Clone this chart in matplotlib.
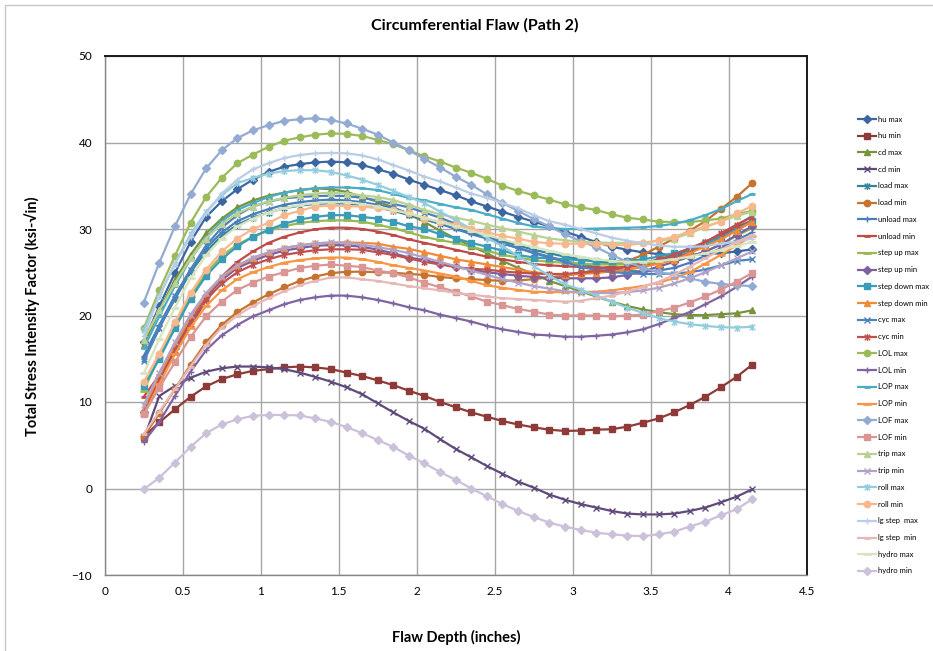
import matplotlib
matplotlib.use("Agg")
import matplotlib.pyplot as plt
from matplotlib.path import Path
from matplotlib.patches import Rectangle

plt.rcParams['font.family'] = ['Lato', 'DejaVu Sans']

# ---------------------------------------------------------------- data
flaw_depth = [0.25, 0.35, 0.45, 0.55, 0.65, 0.75, 0.85, 0.95, 1.05, 1.15,
              1.25, 1.35, 1.45, 1.55, 1.65, 1.75, 1.85, 1.95, 2.05, 2.15,
              2.25, 2.35, 2.45, 2.55, 2.65, 2.75, 2.85, 2.95, 3.05, 3.15,
              3.25, 3.35, 3.45, 3.55, 3.65, 3.75, 3.85, 3.95, 4.05, 4.15]

hu_max = [16.9, 21.1, 24.9, 28.5, 31.4, 33.2, 34.6, 35.7, 36.6, 37.2,
          37.5, 37.7, 37.8, 37.7, 37.4, 36.9, 36.4, 35.7, 35.1, 34.5,
          33.9, 33.2, 32.6, 32.0, 31.4, 30.85, 30.3, 29.7, 29.1, 28.5,
          27.95, 27.6, 27.3, 27.1, 27.0, 27.0, 27.1, 27.2, 27.4, 27.65]
hu_min = [6.0, 7.65, 9.15, 10.6, 11.8, 12.65, 13.2, 13.6, 13.8, 14.0,
          14.1, 14.0, 13.8, 13.4, 13.0, 12.5, 11.95, 11.3, 10.7, 10.0,
          9.4, 8.8, 8.3, 7.8, 7.4, 7.07, 6.8, 6.65, 6.7, 6.8,
          6.85, 7.15, 7.6, 8.1, 8.8, 9.65, 10.6, 11.7, 12.9, 14.3]
cd_max = [16.6, 20.6, 24.1, 27.0, 29.5, 31.2, 32.5, 33.3, 33.85, 34.2,
          34.5, 34.7, 34.6, 34.3, 33.7, 33.15, 32.5, 31.7, 30.8, 29.8,
          28.9, 28.0, 27.2, 26.3, 25.5, 24.8, 24.0, 23.4, 22.8, 22.2,
          21.6, 21.1, 20.7, 20.4, 20.15, 20.05, 20.05, 20.15, 20.25, 20.6]
cd_min = [5.7, 10.7, 11.85, 12.8, 13.5, 13.9, 14.1, 14.1, 14.0, 13.8,
          13.4, 12.9, 12.35, 11.7, 10.9, 9.85, 8.8, 7.8, 6.9, 5.7,
          4.57, 3.6, 2.6, 1.7, 0.8, 0.1, -0.7, -1.3, -1.8, -2.2,
          -2.6, -2.9, -3.0, -3.0, -2.9, -2.6, -2.2, -1.6, -0.95, -0.1]
load_max = [15.0, 18.6, 21.9, 25.0, 27.4, 29.2, 30.5, 31.3, 31.9, 32.4,
            32.7, 32.9, 33.0, 32.95, 32.8, 32.5, 32.1, 31.6, 31.1, 30.6,
            30.1, 29.6, 29.1, 28.6, 28.1, 27.6, 27.2, 26.8, 26.5, 26.2,
            26.0, 26.0, 26.1, 26.4, 26.9, 27.6, 28.5, 29.4, 30.4, 31.5]
load_min = [6.0, 8.7, 11.5, 14.3, 16.9, 18.9, 20.4, 21.5, 22.45, 23.25,
            24.0, 24.5, 24.9, 25.05, 25.07, 25.0, 24.95, 24.8, 24.7, 24.45,
            24.3, 24.2, 24.1, 24.0, 24.05, 24.2, 24.4, 24.6, 24.9, 25.3,
            25.7, 26.3, 27.0, 27.95, 28.9, 29.8, 30.9, 32.3, 33.7, 35.3]
unload_max = [15.3, 18.9, 22.3, 25.3, 27.8, 29.6, 30.9, 31.7, 32.3, 32.8,
              33.1, 33.3, 33.4, 33.3, 33.1, 32.8, 32.4, 31.8, 31.2, 30.6,
              30.0, 29.4, 28.9, 28.3, 27.8, 27.3, 26.8, 26.3, 25.9, 25.6,
              25.3, 25.15, 25.1, 25.2, 25.5, 26.1, 26.9, 27.8, 28.7, 29.6]
unload_min = [10.6, 13.1, 15.6, 18.7, 21.8, 24.5, 26.2, 27.4, 28.4, 29.1,
              29.6, 29.97, 30.15, 30.15, 30.0, 29.7, 29.3, 28.8, 28.4, 28.0,
              27.6, 27.2, 26.8, 26.5, 26.2, 25.95, 25.8, 25.7, 25.6, 25.55,
              25.55, 25.6, 25.8, 26.1, 26.6, 27.3, 28.2, 29.2, 30.2, 31.0]
step_up_max = [11.3, 15.2, 18.9, 22.2, 24.9, 26.9, 28.2, 29.1, 29.8, 30.3,
               30.7, 30.9, 31.0, 31.0, 30.85, 30.5, 30.1, 29.6, 29.1, 28.7,
               28.4, 27.95, 27.5, 27.0, 26.7, 26.4, 26.2, 26.1, 26.0, 25.9,
               25.9, 25.9, 26.0, 26.2, 26.4, 26.8, 27.4, 28.2, 29.2, 30.1]
step_up_min = [8.9, 12.75, 16.3, 19.6, 22.2, 24.1, 25.5, 26.3, 27.0, 27.5,
               27.8, 28.05, 28.15, 28.1, 27.95, 27.6, 27.2, 26.7, 26.4, 26.0,
               25.6, 25.3, 25.0, 24.8, 24.6, 24.45, 24.35, 24.3, 24.3, 24.3,
               24.4, 24.7, 25.1, 25.65, 26.2, 26.8, 27.4, 28.2, 29.3, 30.3]
step_down_max = [11.8, 15.0, 18.5, 21.9, 24.6, 26.5, 28.0, 29.1, 29.9, 30.6,
                 31.1, 31.4, 31.6, 31.6, 31.4, 31.2, 30.85, 30.3, 30.0, 29.4,
                 28.9, 28.4, 27.95, 27.5, 27.0, 26.7, 26.6, 26.5, 26.4, 26.3,
                 26.3, 26.3, 26.5, 26.8, 27.2, 27.7, 28.3, 29.0, 29.9, 30.9]
step_down_min = [9.1, 13.0, 16.5, 19.8, 22.4, 24.4, 25.7, 26.6, 27.3, 27.8,
                 28.1, 28.35, 28.4, 28.45, 28.4, 28.3, 27.95, 27.7, 27.3, 26.9,
                 26.5, 26.2, 25.9, 25.6, 25.3, 25.0, 24.8, 24.7, 24.8, 24.9,
                 25.1, 25.3, 25.6, 26.0, 26.4, 27.2, 28.0, 28.8, 29.8, 30.85]
cyc_max = [14.7, 18.5, 22.2, 25.3, 28.1, 30.15, 31.6, 32.6, 33.15, 33.55,
           33.7, 33.8, 33.85, 33.8, 33.6, 33.3, 32.9, 32.5, 31.9, 31.3,
           30.6, 29.9, 29.1, 28.4, 27.8, 27.2, 26.7, 26.2, 25.6, 25.3,
           25.0, 24.9, 24.8, 24.8, 24.85, 25.0, 25.3, 25.8, 26.3, 26.5]
cyc_min = [8.7, 12.5, 16.0, 19.2, 21.8, 23.7, 25.0, 25.85, 26.5, 27.0,
           27.3, 27.55, 27.65, 27.65, 27.6, 27.3, 27.0, 26.6, 26.2, 25.9,
           25.6, 25.4, 25.3, 25.1, 24.95, 24.85, 24.8, 24.8, 24.95, 25.1,
           25.3, 25.65, 26.0, 26.5, 27.0, 27.8, 28.5, 29.5, 30.5, 31.4]
lol_max = [18.5, 22.9, 26.9, 30.7, 33.7, 35.9, 37.6, 38.6, 39.5, 40.2,
           40.6, 40.9, 41.05, 41.0, 40.75, 40.3, 39.8, 39.1, 38.4, 37.8,
           37.1, 36.5, 35.8, 35.0, 34.4, 33.9, 33.4, 32.85, 32.5, 32.2,
           31.7, 31.3, 31.1, 30.85, 30.8, 30.8, 31.0, 31.2, 31.7, 32.1]
lol_min = [5.4, 7.7, 10.7, 13.5, 16.0, 17.7, 18.9, 19.9, 20.6, 21.3,
           21.8, 22.1, 22.3, 22.3, 22.1, 21.8, 21.4, 20.95, 20.6, 20.1,
           19.7, 19.3, 18.8, 18.4, 18.1, 17.8, 17.7, 17.55, 17.55, 17.65,
           17.8, 18.05, 18.4, 19.0, 19.7, 20.4, 21.3, 22.2, 23.3, 24.5]
lop_max = [16.2, 19.9, 23.4, 26.5, 29.0, 30.9, 32.2, 33.0, 33.7, 34.2,
           34.5, 34.7, 34.8, 34.8, 34.7, 34.5, 34.05, 33.6, 33.3, 32.9,
           32.5, 32.2, 31.7, 31.2, 30.7, 30.3, 30.1, 30.0, 30.0, 30.05,
           30.1, 30.15, 30.2, 30.35, 30.6, 31.0, 31.6, 32.3, 33.2, 34.05]
lop_min = [8.5, 12.1, 15.5, 18.6, 21.1, 22.9, 24.2, 25.0, 25.6, 26.1,
           26.4, 26.6, 26.7, 26.7, 26.5, 26.2, 25.8, 25.5, 25.2, 24.85,
           24.5, 24.0, 23.5, 23.2, 22.95, 22.75, 22.7, 22.7, 22.7, 22.75,
           22.9, 23.15, 23.4, 23.8, 24.3, 25.0, 26.0, 27.0, 28.1, 29.2]
lof_max = [21.5, 26.1, 30.3, 34.0, 37.0, 39.1, 40.5, 41.4, 42.0, 42.5,
           42.7, 42.8, 42.6, 42.2, 41.6, 40.9, 40.0, 39.1, 38.1, 37.1,
           36.05, 35.1, 34.0, 33.0, 32.1, 31.15, 30.3, 29.4, 28.6, 27.9,
           27.0, 26.2, 25.5, 25.0, 24.7, 24.3, 23.9, 23.65, 23.5, 23.4]
lof_min = [8.6, 11.65, 14.6, 17.5, 19.9, 21.6, 22.95, 23.8, 24.5, 25.0,
           25.5, 25.75, 25.9, 25.75, 25.6, 25.2, 24.9, 24.4, 23.8, 23.25,
           22.75, 22.2, 21.6, 21.2, 20.75, 20.45, 20.1, 20.0, 20.0, 20.0,
           19.9, 20.0, 20.1, 20.5, 20.9, 21.5, 22.2, 23.0, 23.9, 24.9]
trip_max = [17.2, 20.6, 23.7, 26.6, 28.9, 30.6, 31.8, 32.6, 33.2, 33.6,
            33.9, 34.1, 34.2, 34.1, 33.9, 33.7, 33.35, 32.8, 32.2, 31.7,
            31.3, 30.95, 30.5, 30.1, 29.7, 29.3, 28.9, 28.7, 28.5, 28.45,
            28.4, 28.4, 28.45, 28.6, 28.9, 29.5, 30.2, 30.9, 31.5, 32.0]
trip_min = [9.65, 13.4, 16.9, 20.1, 22.6, 24.5, 25.8, 26.7, 27.3, 27.8,
            28.1, 28.35, 28.45, 28.4, 28.2, 27.9, 27.6, 27.2, 26.7, 26.2,
            25.7, 25.2, 24.7, 24.2, 23.8, 23.4, 23.1, 22.8, 22.65, 22.6,
            22.6, 22.7, 22.9, 23.2, 23.7, 24.3, 25.0, 25.8, 26.6, 27.4]
roll_max = [18.3, 22.2, 26.0, 29.4, 32.0, 33.9, 35.3, 35.9, 36.4, 36.7,
            36.8, 36.8, 36.6, 36.2, 35.7, 35.1, 34.4, 33.7, 33.0, 32.0,
            31.0, 30.0, 29.0, 28.0, 26.9, 25.7, 24.6, 23.6, 23.0, 22.3,
            21.6, 20.9, 20.3, 19.7, 19.3, 19.0, 18.8, 18.65, 18.6, 18.7]
roll_min = [12.3, 15.6, 19.2, 22.6, 25.3, 27.4, 28.9, 30.0, 30.7, 31.6,
            32.1, 32.6, 32.7, 32.65, 32.6, 32.4, 32.2, 31.8, 31.2, 30.85,
            30.5, 30.0, 29.6, 29.2, 28.9, 28.5, 28.35, 28.3, 28.3, 28.3,
            28.15, 28.15, 28.35, 28.7, 29.1, 29.7, 30.3, 30.85, 31.8, 32.65]
lg_step_max = [17.6, 22.3, 26.0, 29.1, 31.8, 34.1, 35.7, 36.9, 37.6, 38.2,
               38.55, 38.75, 38.8, 38.75, 38.5, 38.05, 37.4, 36.75, 36.05, 35.5,
               34.8, 34.1, 33.6, 33.0, 32.4, 31.6, 30.9, 30.5, 30.0, 29.5,
               29.0, 28.65, 28.35, 28.1, 27.95, 27.95, 28.0, 28.3, 28.55, 28.9]
lg_step_min = [6.3, 8.9, 11.5, 14.1, 16.6, 18.6, 20.0, 21.1, 22.0, 22.8,
               23.5, 24.0, 24.4, 24.4, 24.2, 24.0, 23.7, 23.4, 23.15, 22.9,
               22.6, 22.4, 22.2, 22.0, 21.9, 21.8, 21.7, 21.6, 21.7, 22.0,
               22.3, 22.75, 23.3, 23.9, 24.7, 25.65, 26.6, 27.6, 28.5, 29.3]
hydro_max = [13.3, 17.3, 20.9, 24.3, 27.0, 28.9, 30.3, 31.2, 31.9, 32.4,
             32.8, 33.0, 33.1, 33.1, 32.9, 32.6, 32.2, 31.8, 31.3, 30.8,
             30.3, 29.8, 29.3, 28.8, 28.3, 27.9, 27.5, 27.1, 26.8, 26.5,
             26.3, 26.2, 26.2, 26.3, 26.5, 26.8, 27.2, 27.6, 28.0, 28.5]
hydro_min = [-0.1, 1.25, 3.0, 4.8, 6.4, 7.4, 8.0, 8.4, 8.5, 8.5,
             8.45, 8.1, 7.7, 7.1, 6.4, 5.6, 4.8, 3.8, 2.9, 1.9,
             1.0, 0.0, -0.9, -1.8, -2.6, -3.3, -3.95, -4.4, -4.8, -5.1,
             -5.3, -5.45, -5.5, -5.3, -5.0, -4.4, -3.85, -3.1, -2.4, -1.25]

series_labels = ["hu max", "hu min", "cd max", "cd min", "load max", "load min",
                 "unload max", "unload min", "step up max", "step up min",
                 "step down max", "step down min", "cyc max", "cyc min",
                 "LOL max", "LOL min", "LOP max", "LOP min", "LOF max", "LOF min",
                 "trip max", "trip min", "roll max", "roll min",
                 "lg step  max", "lg step  min", "hydro max", "hydro min"]
series_values = [hu_max, hu_min, cd_max, cd_min, load_max, load_min,
                 unload_max, unload_min, step_up_max, step_up_min,
                 step_down_max, step_down_min, cyc_max, cyc_min,
                 lol_max, lol_min, lop_max, lop_min, lof_max, lof_min,
                 trip_max, trip_min, roll_max, roll_min,
                 lg_step_max, lg_step_min, hydro_max, hydro_min]

x_ticks = [0, 0.5, 1, 1.5, 2, 2.5, 3, 3.5, 4, 4.5]
y_ticks = [-10, 0, 10, 20, 30, 40, 50]

# ---------------------------------------------------------------- styles
series_colors = ["#3B66A2", "#8E3A38", "#77933C", "#5F4A7B", "#31859C", "#C5732F",
                 "#4A7EBB", "#BE4B48", "#98B954", "#7D60A0", "#3B9CB7", "#EE8A38",
                 "#4F81BD", "#C0504D", "#9BBB59", "#8064A2", "#4BACC6", "#F79646",
                 "#93ABD3", "#D99694", "#B9D192", "#B3A2C7", "#93CDDD", "#F8B88E",
                 "#B9CDE5", "#E6B9B8", "#D7E4BD", "#CCC1DA"]

star = Path([(-1, -1), (1, 1), (-1, 1), (1, -1), (0, -1.25), (0, 1.25)],
            [Path.MOVETO, Path.LINETO, Path.MOVETO, Path.LINETO,
             Path.MOVETO, Path.LINETO])

marker_cycle = [("D", 4.0, 1.0), ("s", 4.3, 1.0), ("^", 5.0, 1.0), ("x", 4.0, 1.0),
                (star, 5.0, 1.0), ("o", 4.6, 1.0), ("+", 5.0, 1.0),
                ("_", 4.0, 2.0), ("_", 6.0, 2.0)]

W, H = 933, 651
fig = plt.figure(figsize=(W / 100, H / 100), dpi=100)
fig.patch.set_facecolor("white")

left, right, top, bottom = 104.7, 806.7, 56.0, 575.0
ax = fig.add_axes([left / W, 1 - bottom / H, (right - left) / W, (bottom - top) / H])

for k, (label, vals, col) in enumerate(zip(series_labels, series_values, series_colors)):
    mk, ms, mew = marker_cycle[k % 9]
    ax.plot(flaw_depth, vals, color=col, lw=1.6, marker=mk, ms=ms,
            mfc=col, mec=col, mew=mew, zorder=3 + k * 0.01, label=label)

ax.set_xlim(0, 4.5)
ax.set_ylim(-10, 50)
ax.set_xticks(x_ticks)
ax.set_xticklabels([f"{t:g}" for t in x_ticks])
ax.set_yticks(y_ticks)
ax.grid(True, color="#A6A6A6", lw=1.0, zorder=0)
ax.set_axisbelow(True)
ax.tick_params(length=0, labelsize=8.5, colors="#000000")
ax.tick_params(axis="y", pad=9)
ax.tick_params(axis="x", pad=8)
for side in ("top", "right"):
    ax.spines[side].set_color("#1A1A1A")
    ax.spines[side].set_linewidth(1.4)
for side in ("left", "bottom"):
    ax.spines[side].set_color("#868686")
    ax.spines[side].set_linewidth(1.0)

# overlay in pixel units for the titles, frame and legend
ov = fig.add_axes([0, 0, 1, 1], zorder=10)
ov.set_xlim(0, W)
ov.set_ylim(H, 0)
ov.axis("off")
ov.patch.set_alpha(0)

ov.add_patch(Rectangle((5, 5), W + 20, H + 20, fill=False, ec="#C8C8C8", lw=1.0))
ov.text(475, 25, "Circumferential Flaw (Path 2)", ha="center", va="center",
        fontsize=11.5, fontweight="bold")
ov.text(456, 637, "Flaw Depth (inches)", ha="center", va="center",
        fontsize=10.5, fontweight="bold")
ov.text(32, 316, "Total Stress Intensity Factor (ksi-\u221ain)", ha="center", va="center",
        rotation=90, fontsize=10.5, fontweight="bold")

leg_top, leg_step = 119.0, 16.74
for k, (label, col) in enumerate(zip(series_labels, series_colors)):
    yk = leg_top + leg_step * k
    mk, ms, mew = marker_cycle[k % 9]
    ov.plot([857, 877], [yk, yk], color=col, lw=1.6, solid_capstyle="butt")
    ov.plot([867], [yk], marker=mk, ms=ms, mfc=col, mec=col, mew=mew, color=col)
    ov.text(878, yk, label, ha="left", va="center", fontsize=5.5, clip_on=False)

fig.savefig("out.png", dpi=100)
